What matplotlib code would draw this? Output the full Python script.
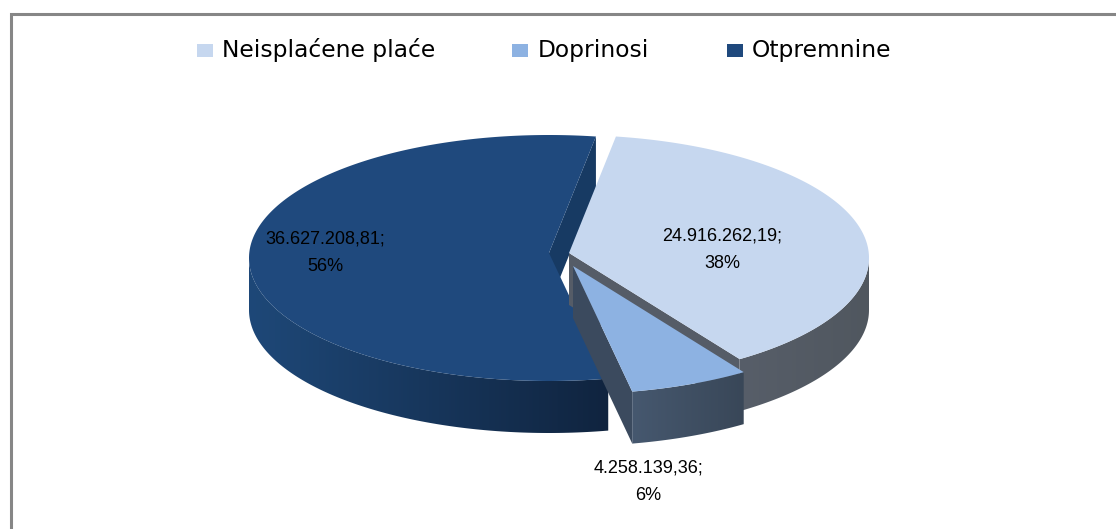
#!/usr/bin/env python3
"""Exploded 3D-look pie, drawn by hand on a pixel-sized axes."""

import itertools
import matplotlib
matplotlib.use('Agg')
import matplotlib.pyplot as plt
from matplotlib.colors import to_rgb
from matplotlib.patches import Polygon, Rectangle
import numpy as np

categories = ['Neisplaćene plaće', 'Doprinosi', 'Otpremnine']
values = [24916262.19, 4258139.36, 36627208.81]
value_labels = ['24.916.262,19;', '4.258.139,36;', '36.627.208,81;']
percent_labels = ['38%', '6%', '56%']

top_colors = ['#C6D7EF', '#8DB2E2', '#1F497D']
cut_colors = ['#555C67', '#3B4A5E', '#173A63']
wall_left = ['#575E69', '#46586F', '#1E4878']
wall_right = ['#50575F', '#394758', '#10243F']

START_ANGLE = 9
RX, RY = 300, 123
RIM_DROP = 5  # apex sits a little above the rim centre (perspective)
DEPTH = 52
apexes = [(569, 253), (573, 266), (549, 253)]
label_xy = [(722, 250), (648, 482), (325, 253)]
legend_boxes = [(197, 222), (512, 538), (727, 752)]

plt.rcParams['font.family'] = ['Liberation Sans', 'DejaVu Sans']

total = sum(values)
spans = [v / total * 360 for v in values]
starts = START_ANGLE + np.concatenate([[0], np.cumsum(spans)[:-1]])
z = itertools.count(2)


def rim(apex, a0, a1, n=120):
    """Rim points of a slice, angles clockwise from twelve o'clock."""
    t = np.radians(np.linspace(a0, a1, n))
    return np.column_stack([apex[0] + RX * np.sin(t),
                            apex[1] + RIM_DROP - RY * np.cos(t)])


def draw_wall(ax, apex, a0, a1, c0, c1):
    """Outer wall between two angles, shaded left to right."""
    pts = rim(apex, a0, a1)
    outline = np.vstack([pts, pts[::-1] + [0, DEPTH]])
    f = np.linspace(0, 1, 256)[:, None]
    row = (np.array(to_rgb(c0)) * (1 - f) + np.array(to_rgb(c1)) * f)[None, :, :]
    x0, x1 = outline[:, 0].min(), outline[:, 0].max()
    y0, y1 = outline[:, 1].min(), outline[:, 1].max()
    im = ax.imshow(row, extent=(x0, x1, y1, y0), aspect='auto', zorder=next(z))
    clip = Polygon(outline, transform=ax.transData)
    im.set_clip_path(clip)


def draw_cut(ax, apex, angle, color):
    """Flat radial face of a slice."""
    p = rim(apex, angle, angle, 1)[0]
    ax.add_patch(Polygon([apex, p, p + [0, DEPTH], np.add(apex, [0, DEPTH])],
                         facecolor=color, edgecolor='none', zorder=next(z)))


def draw_top(ax, apex, a0, a1, color):
    ax.add_patch(Polygon(np.vstack([[apex], rim(apex, a0, a1, 240)]),
                         facecolor=color, edgecolor='none', zorder=next(z)))


fig = plt.figure(figsize=(11.16, 5.29), dpi=100, facecolor='white')
ax = fig.add_axes([0, 0, 1, 1])
ax.set_xlim(0, 1116)
ax.set_ylim(529, 0)
ax.axis('off')

# chart frame, only left and top show in the crop
ax.plot([10.5, 10.5, 1116], [529, 13.5, 13.5], color='#868686', lw=2.2, solid_joinstyle='miter')

light, contrib, dark = 0, 1, 2

# back to front: big slice, then the light one, the small one last
draw_cut(ax, apexes[dark], starts[dark] + spans[dark], cut_colors[dark])
draw_wall(ax, apexes[dark], 270, starts[dark], wall_left[dark], wall_right[dark])
draw_top(ax, apexes[dark], starts[dark], starts[dark] + spans[dark], top_colors[dark])

draw_cut(ax, apexes[light], starts[light] + spans[light], cut_colors[light])
draw_wall(ax, apexes[light], 90, starts[light] + spans[light], wall_left[light], wall_right[light])
draw_top(ax, apexes[light], starts[light], starts[light] + spans[light], top_colors[light])

draw_cut(ax, apexes[contrib], starts[contrib] + spans[contrib], cut_colors[contrib])
draw_wall(ax, apexes[contrib], starts[contrib], starts[contrib] + spans[contrib],
          wall_left[contrib], wall_right[contrib])
draw_top(ax, apexes[contrib], starts[contrib], starts[contrib] + spans[contrib], top_colors[contrib])

for (x, y), val, pct in zip(label_xy, value_labels, percent_labels):
    ax.text(x, y, f'{val}\n{pct}', ha='center', va='center', fontsize=13,
            linespacing=1.8, color='black', zorder=next(z))

for (bx, tx), name, color in zip(legend_boxes, categories, top_colors):
    ax.add_patch(Rectangle((bx, 44), 16, 13, facecolor=color, edgecolor='none'))
    ax.text(tx, 50.5, name, ha='left', va='center', fontsize=16.8,
            family=['DejaVu Sans'], color='black')

fig.savefig('out.png', dpi=100)
